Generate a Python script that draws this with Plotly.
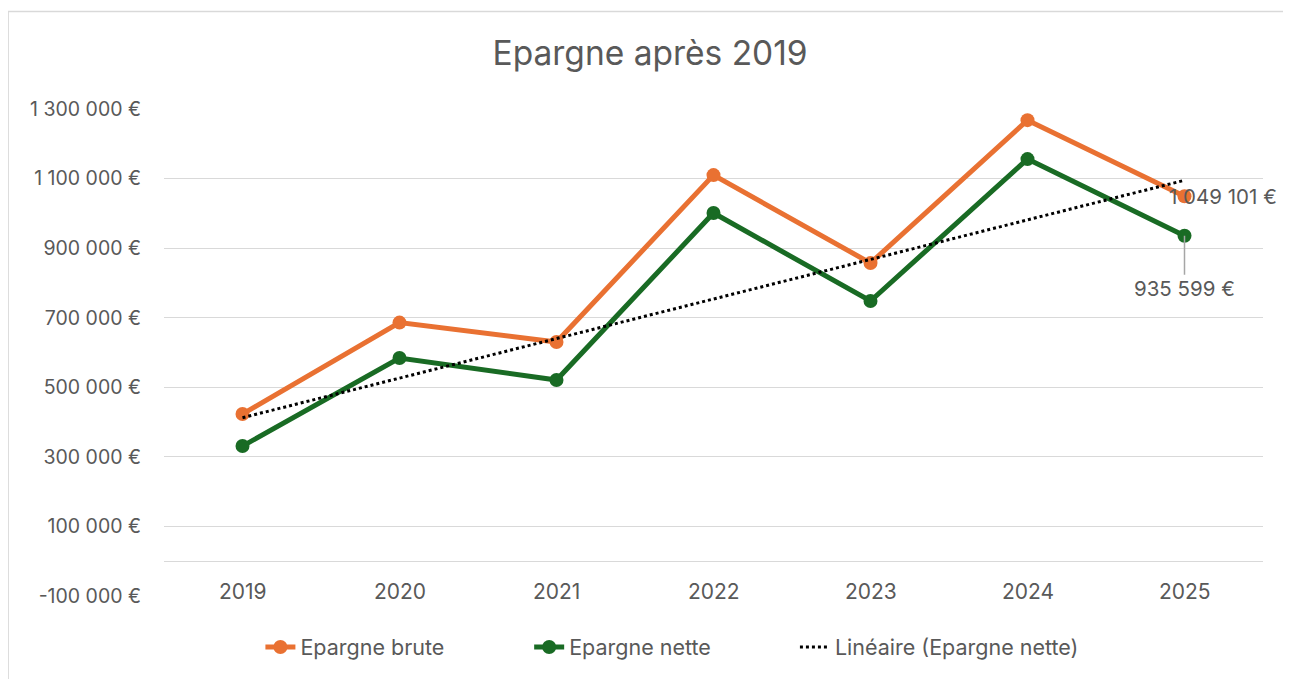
import numpy as np
import plotly.graph_objects as go

years = ["2019", "2020", "2021", "2022", "2023", "2024", "2025"]
epargne_brute = [423000, 686000, 630000, 1110000, 857000, 1268000, 1049101]
epargne_nette = [331000, 584000, 521000, 1001000, 748000, 1156000, 935599]
y_ticks = [-100000, 100000, 300000, 500000, 700000, 900000, 1100000, 1300000]

ORANGE = "#E97132"
GREEN = "#196B24"
GREY = "#595959"
FONT = "Inter"
OFF = 8  # default page body margin

W, H = 1291 - OFF, 679 - OFF
PL, PR, PT, PB = 163.5, 1263.5, 109, 596  # plot area in page pixels


def fmt_eur(v):
    s = f"{abs(int(v)):,}".replace(",", " ")
    return ("-" if v < 0 else "") + s + " €"


xi = np.arange(len(years))
coef = np.polyfit(xi, np.array(epargne_nette, dtype=float), 1)
trend = np.polyval(coef, xi)

fig = go.Figure()
fig.add_trace(go.Scatter(x=xi, y=epargne_brute, mode="lines+markers", name="Epargne brute",
                         line=dict(color=ORANGE, width=5), marker=dict(size=14, color=ORANGE),
                         legend="legend"))
fig.add_trace(go.Scatter(x=xi, y=epargne_nette, mode="lines+markers", name="Epargne nette",
                         line=dict(color=GREEN, width=5), marker=dict(size=14, color=GREEN),
                         legend="legend2"))
fig.add_trace(go.Scatter(x=xi, y=trend, mode="lines", name="Linéaire (Epargne nette)",
                         line=dict(color="black", width=3, dash="dot"), legend="legend3"))

TS = 19.5
LS = 20.5
annotations = []
for i, yr in enumerate(years):
    annotations.append(dict(x=i, y=y_ticks[0], xref="x", yref="y", text=yr, showarrow=False,
                            yanchor="middle", yshift=5, font=dict(size=21, color=GREY, family=FONT)))
annotations.append(dict(x=xi[-1], y=epargne_brute[-1], xref="x", yref="y", text=fmt_eur(epargne_brute[-1]),
                        showarrow=False, xanchor="left", xshift=-18, yanchor="middle",
                        font=dict(size=LS, color=GREY, family=FONT)))
annotations.append(dict(x=xi[-1], y=epargne_nette[-1], xref="x", yref="y", text=fmt_eur(epargne_nette[-1]),
                        showarrow=True, arrowhead=0, arrowwidth=1.5, arrowcolor="#A6A6A6",
                        ax=0, ay=53, standoff=0,
                        font=dict(size=LS, color=GREY, family=FONT)))

pw, ph = PR - PL, PB - PT


def leg(px):
    return dict(orientation="h", x=(px - PL) / pw, xanchor="left", y=(PB - 647) / ph, yanchor="middle",
                font=dict(size=21.5, color=GREY, family=FONT), bgcolor="rgba(0,0,0,0)")


fig.update_layout(
    width=W, height=H,
    paper_bgcolor="white", plot_bgcolor="white",
    margin=dict(l=PL - OFF, r=1291 - PR, t=PT - OFF, b=679 - PB),
    font=dict(family=FONT, color=GREY, size=TS),
    title=dict(text="Epargne après 2019", x=(650 - PL) / pw, xref="paper", xanchor="center",
               y=1 - (53 - OFF) / H, yanchor="middle", font=dict(size=33.5, color=GREY, family=FONT)),
    showlegend=True,
    legend=leg(260),
    legend2=leg(529),
    legend3=leg(795),
    annotations=annotations,
    xaxis=dict(range=[-0.5, 6.5], showticklabels=False, showgrid=False, zeroline=False,
               showline=False, fixedrange=True),
    yaxis=dict(range=[-100000, 1300000], tickvals=y_ticks, ticktext=[fmt_eur(v) for v in y_ticks],
               showgrid=True, gridcolor="#D9D9D9", gridwidth=1.3,
               zeroline=True, zerolinecolor="#D9D9D9", zerolinewidth=1.3,
               showline=False, ticks="", ticklabelstandoff=22,
               tickfont=dict(size=TS, color=GREY, family=FONT)),
    shapes=[dict(type="rect", xref="paper", yref="paper",
                 x0=(7.5 - PL) / pw, x1=(1300 - PL) / pw,
                 y0=(PB - 700) / ph, y1=(PB - 11.5) / ph,
                 line=dict(color="#D9D9D9", width=1.5), fillcolor="rgba(0,0,0,0)", layer="below")],
)

fig.write_html("out.html")
